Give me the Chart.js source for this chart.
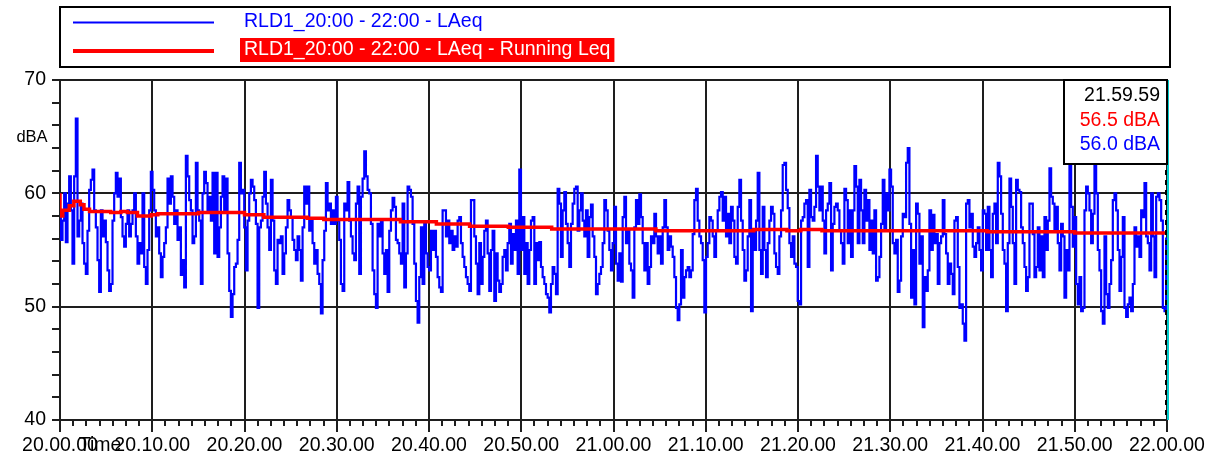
<!DOCTYPE html>
<html>
<head>
<meta charset="utf-8">
<script src="https://cdn.jsdelivr.net/npm/chart.js@4/dist/chart.umd.min.js"></script>
<style>
  html, body { margin: 0; padding: 0; background: #fff; }
  canvas { display: block; }
</style>
</head>
<body>
<canvas id="line-chart" width="1215" height="458"></canvas>
<script>
// LAeq, evenly spaced from 20:00 to 22:00 (about 11 s apart)
var laeq = [
  // 20:00 - 20:15
  57.9, 55.9, 57.6, 60.0, 55.7, 59.1, 61.5, 58.5, 53.8, 61.5, 66.6, 56.2, 57.6, 59.1, 55.6, 53.8, 52.9, 56.7, 60.3, 61.2,
  62.1, 58.5, 57.0, 54.1, 51.3, 58.5, 56.2, 57.6, 55.7, 53.2, 51.4, 52.0, 57.6, 60.0, 61.8, 59.7, 61.3, 57.9, 56.2, 55.3,
  57.3, 58.5, 56.2, 57.3, 58.5, 60.0, 56.2, 53.8, 55.6, 54.7, 60.0, 53.5, 52.0, 55.0, 58.5, 61.9, 60.3, 58.5, 56.2, 57.0,
  54.7, 52.6, 54.4, 55.6, 57.0, 61.3, 59.1, 61.5, 59.7, 57.3, 58.5, 55.9, 57.0, 52.8, 54.1, 51.7, 63.3, 61.5, 59.4, 58.5,
  55.6,
  // 20:15 - 20:30
  56.2, 62.7, 58.5, 57.6, 52.0, 60.0, 61.9, 60.9, 58.5, 59.7, 57.6, 61.8, 54.7, 61.8, 54.4, 57.0, 59.7, 61.5, 58.5, 61.3,
  54.7, 51.4, 49.1, 51.1, 53.5, 53.8, 55.9, 62.7, 60.0, 60.3, 57.0, 53.2, 57.6, 60.0, 61.2, 60.6, 59.4, 57.3, 49.9, 57.0,
  57.6, 59.7, 61.9, 59.1, 57.0, 55.0, 61.2, 57.6, 53.2, 52.0, 55.9, 55.6, 56.2, 52.9, 54.7, 57.0, 59.4, 58.5, 57.9, 55.9,
  55.0, 54.1, 56.2, 55.0, 52.3, 57.0, 60.6, 59.1, 60.6, 56.7, 57.6, 55.6, 53.8, 55.0, 52.9, 52.0, 49.4, 54.1, 56.7, 60.9,
  58.5, 59.1, 57.3, 58.5,
  // 20:30 - 20:45
  57.3, 59.7, 57.6, 55.9, 52.0, 51.4, 59.1, 58.5, 61.0, 57.6, 56.2, 54.7, 54.1, 59.1, 60.6, 52.9, 59.7, 61.3, 63.7, 61.5,
  60.3, 60.0, 57.3, 53.2, 51.1, 49.9, 57.3, 56.2, 57.6, 54.7, 52.9, 55.0, 51.3, 56.7, 58.5, 59.6, 58.8, 55.9, 55.6, 54.7,
  53.8, 59.1, 51.7, 54.7, 60.6, 60.3, 59.7, 57.3, 53.8, 50.5, 48.6, 52.6, 57.0, 52.0, 57.3, 54.7, 53.5, 53.2, 56.7, 55.0,
  56.7, 54.4, 52.6, 51.7, 51.3, 58.5, 58.5, 56.2, 57.6, 55.6, 56.7, 55.0, 56.2, 55.3, 57.6, 57.9, 55.6, 54.4, 53.5, 52.6,
  52.0, 51.4, 59.4, 59.4,
  // 20:45 - 21:00
  56.2, 53.8, 51.1, 55.6, 52.0, 54.4, 56.7, 57.6, 54.7, 51.4, 55.0, 56.7, 50.5, 54.7, 52.3, 51.3, 52.0, 54.4, 55.0, 53.2,
  55.6, 57.3, 53.8, 56.4, 55.0, 57.6, 52.9, 62.1, 55.0, 57.9, 52.9, 55.6, 52.0, 55.0, 57.6, 57.9, 52.0, 55.6, 54.1, 55.7,
  53.5, 52.6, 52.0, 51.1, 50.8, 49.5, 52.0, 53.5, 52.9, 51.1, 60.4, 59.1, 54.4, 58.5, 60.1, 57.3, 55.6, 53.5, 57.3, 59.1,
  60.4, 60.6, 56.7, 58.5, 60.0, 57.6, 56.2, 58.5, 54.4, 57.9, 59.0, 56.2, 54.4, 51.1, 52.0, 52.9, 53.5, 55.6, 59.4, 58.5,
  56.7, 55.0, 53.2, 55.6,
  // 21:00 - 21:15
  58.8, 53.8, 52.3, 54.7, 52.2, 57.9, 59.7, 55.6, 56.7, 53.8, 53.2, 50.8, 57.0, 59.4, 57.3, 59.9, 57.9, 55.6, 53.2, 55.6,
  52.0, 53.5, 56.2, 55.6, 58.2, 56.2, 54.7, 56.2, 53.8, 57.0, 59.4, 57.0, 55.0, 56.2, 55.3, 54.4, 52.6, 49.9, 48.8, 50.2,
  55.0, 50.8, 52.6, 53.2, 53.5, 52.6, 53.2, 56.4, 59.4, 60.4, 57.6, 56.2, 55.6, 54.1, 49.5, 54.4, 55.6, 57.9, 57.6, 56.2,
  54.4, 56.7, 58.5, 59.7, 60.1, 57.6, 59.7, 56.2, 58.2, 55.6, 58.8, 57.6, 54.4, 53.8, 58.8, 61.2, 57.6, 55.0, 52.3, 53.2,
  56.2, 59.4, 49.6, 56.7,
  // 21:15 - 21:30
  55.0, 57.6, 61.8, 55.0, 52.9, 58.8, 55.0, 52.6, 55.6, 57.6, 58.8, 58.2, 54.7, 53.5, 52.9, 56.2, 58.5, 62.5, 62.7, 60.3,
  58.7, 55.6, 54.4, 56.2, 53.8, 53.5, 50.5, 50.2, 57.6, 57.9, 59.1, 59.4, 53.5, 60.3, 57.9, 57.6, 58.8, 63.3, 60.6, 58.5,
  60.6, 57.6, 54.7, 58.5, 59.1, 60.9, 53.2, 57.3, 58.8, 59.1, 58.5, 56.7, 55.6, 53.8, 60.4, 59.4, 55.6, 58.5, 54.4, 58.5,
  62.4, 60.6, 55.6, 61.2, 58.5, 55.6, 60.3, 57.6, 59.4, 55.0, 57.6, 54.7, 58.5, 52.3, 52.6, 54.4, 57.3, 61.2, 56.7, 60.0,
  58.5, 62.1, 60.6, 55.6,
  // 21:30 - 21:45
  54.7, 55.9, 51.3, 52.3, 56.2, 58.2, 57.9, 62.7, 64.0, 57.3, 50.8, 55.0, 50.2, 59.1, 58.2, 53.8, 56.2, 48.2, 52.6, 51.4,
  53.2, 58.5, 55.0, 58.1, 55.6, 56.4, 52.0, 55.6, 56.2, 59.4, 56.4, 54.7, 52.0, 53.8, 52.9, 51.1, 57.6, 57.9, 53.5, 49.9,
  50.2, 48.5, 47.0, 59.1, 59.4, 57.0, 58.2, 55.3, 54.4, 55.6, 57.0, 55.0, 53.2, 58.5, 58.2, 55.0, 58.8, 55.0, 52.6, 58.2,
  59.1, 55.6, 62.7, 61.5, 58.2, 55.0, 53.8, 49.6, 55.6, 61.3, 58.8, 55.6, 52.0, 61.2, 60.3, 60.1, 57.0, 55.6, 53.5, 51.4,
  52.6, 59.1, 59.1, 56.4,
  // 21:45 - 22:00
  52.6, 53.5, 57.0, 53.2, 56.2, 52.6, 57.9, 55.0, 57.6, 62.2, 59.7, 59.1, 56.7, 58.8, 55.6, 53.2, 57.3, 56.2, 50.8, 55.0,
  53.2, 62.4, 58.8, 55.3, 57.9, 52.0, 50.2, 52.6, 49.6, 49.9, 58.5, 60.6, 60.0, 58.5, 55.6, 58.2, 62.7, 60.0, 55.0, 53.2,
  49.6, 48.5, 56.2, 51.1, 49.9, 52.0, 54.1, 59.4, 60.0, 58.5, 55.0, 51.4, 54.4, 57.9, 49.9, 49.1, 50.2, 50.8, 49.6, 52.0,
  57.0, 55.3, 56.2, 54.4, 58.5, 57.9, 60.9, 56.2, 55.6, 53.2, 60.0, 56.2, 52.6, 59.7, 60.0, 59.4, 57.6, 49.9, 49.6, 56.0
];

// running Leq, value holds from each time (minutes after 20:00) on
var leqTimes = [0, 0.3, 1.0, 1.5, 2.2, 2.6, 3.2, 5.5, 6.6, 7.3, 8.4, 9.9, 10.6, 15, 20.0, 22.1,
  26.8, 28.6, 36.9, 40.8, 44.4, 48.6, 53.3, 64.6, 75.2, 78.8, 80.3, 82.6, 100.5, 110, 120];
var leqValues = [60, 58.0, 58.5, 58.9, 59.3, 59.0, 58.6, 58.4, 58.3, 58.4, 58.3, 58.0, 58.1, 58.2, 58.3, 58.1,
  57.9, 57.8, 57.7, 57.5, 57.3, 57.1, 57.0, 56.85, 56.7, 56.8, 56.7, 56.8, 56.7, 56.6, 56.5];

var xTickLabels = ['20.00.00', '20.10.00', '20.20.00', '20.30.00', '20.40.00', '20.50.00', '21.00.00',
  '21.10.00', '21.20.00', '21.30.00', '21.40.00', '21.50.00', '22.00.00'];
var seriesNames = ['RLD1_20:00 - 22:00 - LAeq', 'RLD1_20:00 - 22:00 - LAeq - Running Leq'];
var cursorTime = '21.59.59';

var stepMin = 120 / (laeq.length - 1);
var FONT = '"Liberation Sans", Arial, sans-serif';
var GRID = '#1e1e1e';

var overlay = {
  id: 'overlay',
  afterDraw: function(chart) {
    var c = chart.ctx, a = chart.chartArea, xs = chart.scales.x;
    c.save();

    // longer marks under the major x ticks
    c.strokeStyle = GRID;
    c.lineWidth = 2;
    for (var i = 0; i < xTickLabels.length; i++) {
      var px = Math.round(xs.getPixelForValue(i * 10));
      c.beginPath();
      c.moveTo(px, a.bottom);
      c.lineTo(px, a.bottom + 12);
      c.stroke();
    }

    // cursor at the end
    c.lineWidth = 2;
    c.strokeStyle = '#00cccc';
    c.beginPath(); c.moveTo(a.right + 1, a.top); c.lineTo(a.right + 1, a.bottom); c.stroke();
    c.setLineDash([5, 5]);
    c.strokeStyle = '#000';
    c.beginPath(); c.moveTo(a.right - 1, a.top); c.lineTo(a.right - 1, a.bottom); c.stroke();
    c.setLineDash([]);

    // axis titles
    c.fillStyle = '#000';
    c.font = '16.5px ' + FONT;
    c.textAlign = 'center';
    c.textBaseline = 'middle';
    c.fillText('dBA', 32, 137);
    c.font = '19.5px ' + FONT;
    c.fillText('Time', 100, 446);

    // legend
    c.lineWidth = 2;
    c.strokeStyle = '#000';
    c.strokeRect(60, 7, 1110, 60);
    c.textAlign = 'left';
    c.strokeStyle = '#0000ff';
    c.beginPath(); c.moveTo(73, 22.5); c.lineTo(214, 22.5); c.stroke();
    c.fillStyle = '#0000ff';
    c.fillText(seriesNames[0], 244, 22);
    c.strokeStyle = '#ff0000';
    c.lineWidth = 4;
    c.beginPath(); c.moveTo(73, 51); c.lineTo(214, 51); c.stroke();
    var w = c.measureText(seriesNames[1]).width;
    c.fillStyle = '#ff0000';
    c.fillRect(240, 38, w + 8, 24);
    c.fillStyle = '#fff';
    c.fillText(seriesNames[1], 244, 50);

    // readout box
    c.fillStyle = '#fff';
    c.fillRect(1064, 80, 103, 84);
    c.lineWidth = 2;
    c.strokeStyle = '#000';
    c.strokeRect(1064, 80, 103, 84);
    c.textAlign = 'right';
    c.fillStyle = '#000';
    c.fillText(cursorTime, 1160, 96);
    c.fillStyle = '#ff0000';
    c.fillText(leqValues[leqValues.length - 1].toFixed(1) + ' dBA', 1160, 121);
    c.fillStyle = '#0000ff';
    c.fillText(laeq[laeq.length - 1].toFixed(1) + ' dBA', 1160, 145);

    c.restore();
  }
};

var ctx = document.getElementById('line-chart');
var myChart = new Chart(ctx, {
  type: 'line',
  data: {
    datasets: [{
      label: seriesNames[1],
      data: leqTimes.map(function(t, i) { return { x: t, y: leqValues[i] }; }),
      borderColor: '#ff0000',
      borderWidth: 3.5,
      stepped: 'after',
      pointRadius: 0,
      order: 0
    }, {
      label: seriesNames[0],
      data: laeq.map(function(v, i) { return { x: i * stepMin, y: v }; }),
      borderColor: '#0000ff',
      borderWidth: 2.2,
      stepped: 'middle',
      pointRadius: 0,
      order: 1
    }]
  },
  options: {
    responsive: false,
    animation: false,
    layout: { padding: { top: 80, right: 48, left: 0, bottom: 0 } },
    plugins: { legend: { display: false }, tooltip: { enabled: false } },
    scales: {
      x: {
        type: 'linear',
        min: 0,
        max: 120,
        afterBuildTicks: function(s) {
          var t = [];
          for (var k = 0; k <= 84; k++) t.push({ value: k * 10 / 7 });
          s.ticks = t;
        },
        afterFit: function(s) { s.height = 38; },
        ticks: {
          autoSkip: false,
          maxRotation: 0,
          padding: 8,
          color: '#000',
          font: { family: FONT, size: 19.5 },
          callback: function(v, i) { return i % 7 === 0 ? xTickLabels[i / 7] : ''; }
        },
        grid: {
          color: function(c) { return c.index % 7 === 0 ? GRID : 'rgba(0,0,0,0)'; },
          lineWidth: 2,
          tickColor: GRID,
          tickLength: 6,
          tickWidth: 2
        },
        border: { color: GRID, width: 2 }
      },
      y: {
        min: 40,
        max: 70,
        afterFit: function(s) { s.width = 60; },
        ticks: {
          stepSize: 2,
          autoSkip: false,
          padding: 6,
          color: '#000',
          font: { family: FONT, size: 19.5 },
          callback: function(v) { return v % 10 === 0 ? String(v) : ''; }
        },
        grid: {
          color: function(c) { return c.tick && c.tick.value % 10 === 0 ? GRID : 'rgba(0,0,0,0)'; },
          lineWidth: 2,
          tickColor: GRID,
          tickLength: 8,
          tickWidth: 2
        },
        border: { color: GRID, width: 2 }
      }
    }
  },
  plugins: [overlay]
});
</script>
</body>
</html>
